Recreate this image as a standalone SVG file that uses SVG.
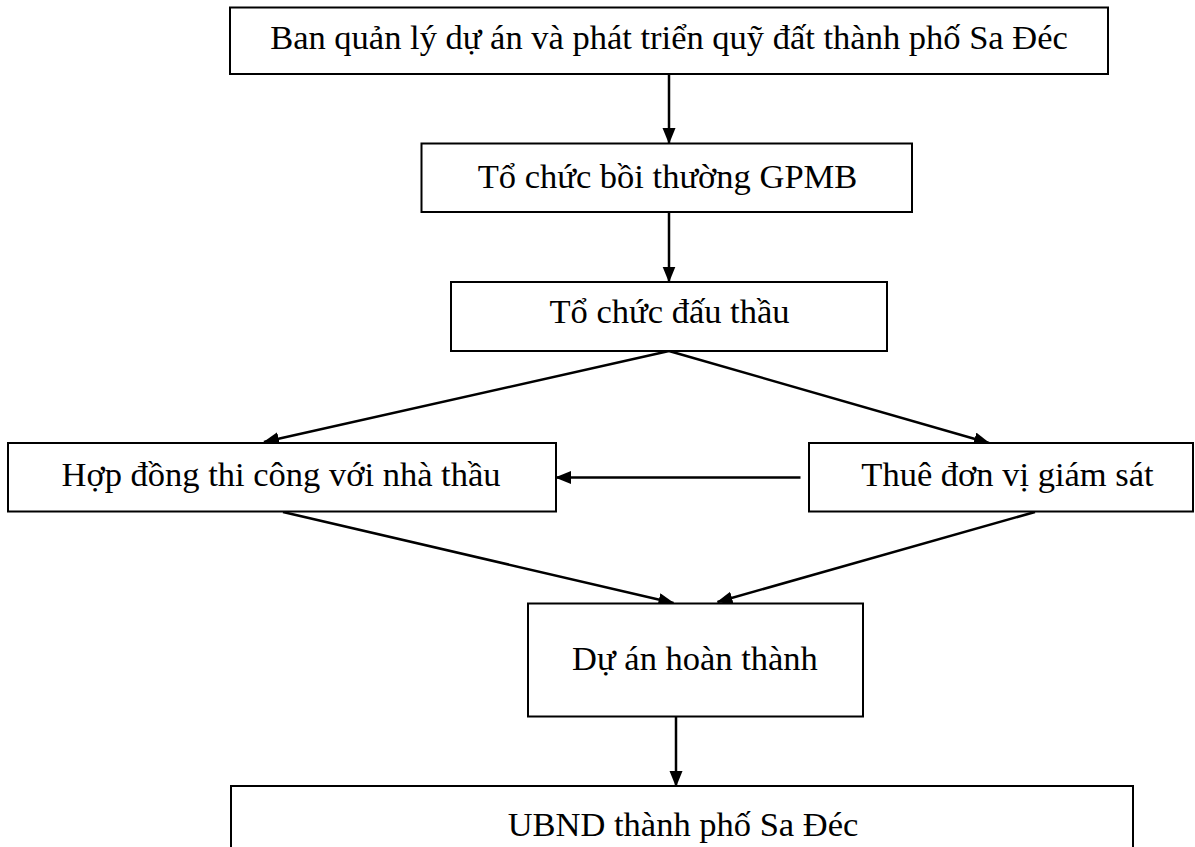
<svg xmlns="http://www.w3.org/2000/svg" width="1195" height="847" viewBox="0 0 1195 847">
<style>
.box{fill:#fff;stroke:#000;stroke-width:2}
.lbl{font-family:"Liberation Serif","Times New Roman",serif;font-size:34.5px;fill:#000;text-anchor:middle}
.con{stroke:#000;stroke-width:2.5;fill:none;marker-end:url(#ah)}
</style>
<defs>
<marker id="ah" markerUnits="userSpaceOnUse" markerWidth="18" markerHeight="14" refX="15" refY="6.5" orient="auto">
<path d="M0,0 L16,6.5 L0,13 z" fill="#000"/>
</marker>
</defs>
<rect width="1195" height="847" fill="#fff"/>
<g id="connectors">
<line class="con" x1="669" y1="75" x2="669" y2="143"/>
<line class="con" x1="669" y1="212" x2="669" y2="281.5"/>
<line class="con" x1="669" y1="351" x2="264" y2="442"/>
<line class="con" x1="669" y1="351" x2="989" y2="443"/>
<line class="con" x1="800.5" y1="477.5" x2="556" y2="477.5"/>
<line class="con" x1="283" y1="512" x2="673.5" y2="603"/>
<line class="con" x1="1035" y1="512" x2="717.5" y2="602"/>
<line class="con" x1="676" y1="717" x2="676" y2="786"/>
</g>
<g id="n1">
<rect class="box" x="230" y="7.5" width="878" height="66.5"/>
<text class="lbl" x="669" y="49">Ban quản lý dự án và phát triển quỹ đất thành phố Sa Đéc</text>
</g>
<g id="n2">
<rect class="box" x="421.5" y="143.5" width="490.5" height="68.5"/>
<text class="lbl" x="667.5" y="188">Tổ chức bồi thường GPMB</text>
</g>
<g id="n3">
<rect class="box" x="451" y="282" width="436" height="69"/>
<text class="lbl" x="669.5" y="323">Tổ chức đấu thầu</text>
</g>
<g id="n4">
<rect class="box" x="8" y="443" width="548" height="68.5"/>
<text class="lbl" x="281" y="485.5">Hợp đồng thi công với nhà thầu</text>
</g>
<g id="n6">
<rect class="box" x="809" y="443" width="384" height="68.5"/>
<text class="lbl" x="1007.5" y="485.5">Thuê đơn vị giám sát</text>
</g>
<g id="n5">
<rect class="box" x="528" y="603.5" width="335" height="113"/>
<text class="lbl" x="695" y="670">Dự án hoàn thành</text>
</g>
<g id="n7">
<rect class="box" x="231" y="786" width="902" height="80"/>
<text class="lbl" x="683" y="836">UBND thành phố Sa Đéc</text>
</g>
</svg>
